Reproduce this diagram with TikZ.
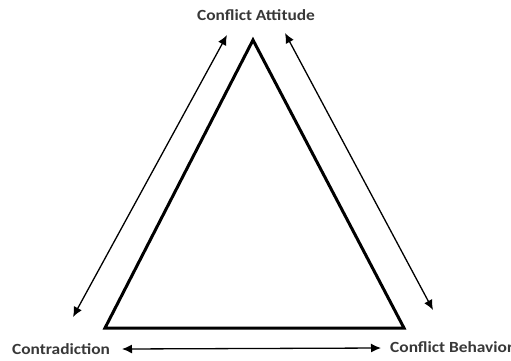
\documentclass[tikz,border=0pt]{standalone}
\usepackage{fontspec}
\setmainfont{Carlito}
\usetikzlibrary{arrows.meta}
\begin{document}
\begin{tikzpicture}[x=1pt,y=-1pt,
  lbl/.style={font=\bfseries\fontsize{15.5}{18}\selectfont, text=black!78, inner sep=0pt, xscale=1.12, transform shape},
  tri/.style={line width=3pt, line join=miter},
  dbl/.style={line width=1.3pt, {Latex[length=10pt,width=9pt]}-{Latex[length=10pt,width=9pt]}}]
\useasboundingbox[fill=white] (0,0) rectangle (511,360);
\coordinate (A) at (253,40);
\coordinate (B) at (105,328);
\coordinate (C) at (404,328);
\draw[tri] (A) -- (B) -- (C) -- cycle;
\node[lbl] (att) at (256,15) {Conflict Attitude};
\node[lbl, anchor=west] (con) at (12,349) {Contradiction};
\node[lbl, anchor=west] (beh) at (390,347) {Conflict Behavior};
\coordinate (l1) at (227,35);
\coordinate (l2) at (73,317);
\coordinate (r1) at (285,33);
\coordinate (r2) at (433,310);
\coordinate (b1) at (122,349);
\coordinate (b2) at (381,348);
\draw[dbl] (l1) -- (l2);
\draw[dbl] (r1) -- (r2);
\draw[dbl] (b1) -- (b2);
\end{tikzpicture}
\end{document}
